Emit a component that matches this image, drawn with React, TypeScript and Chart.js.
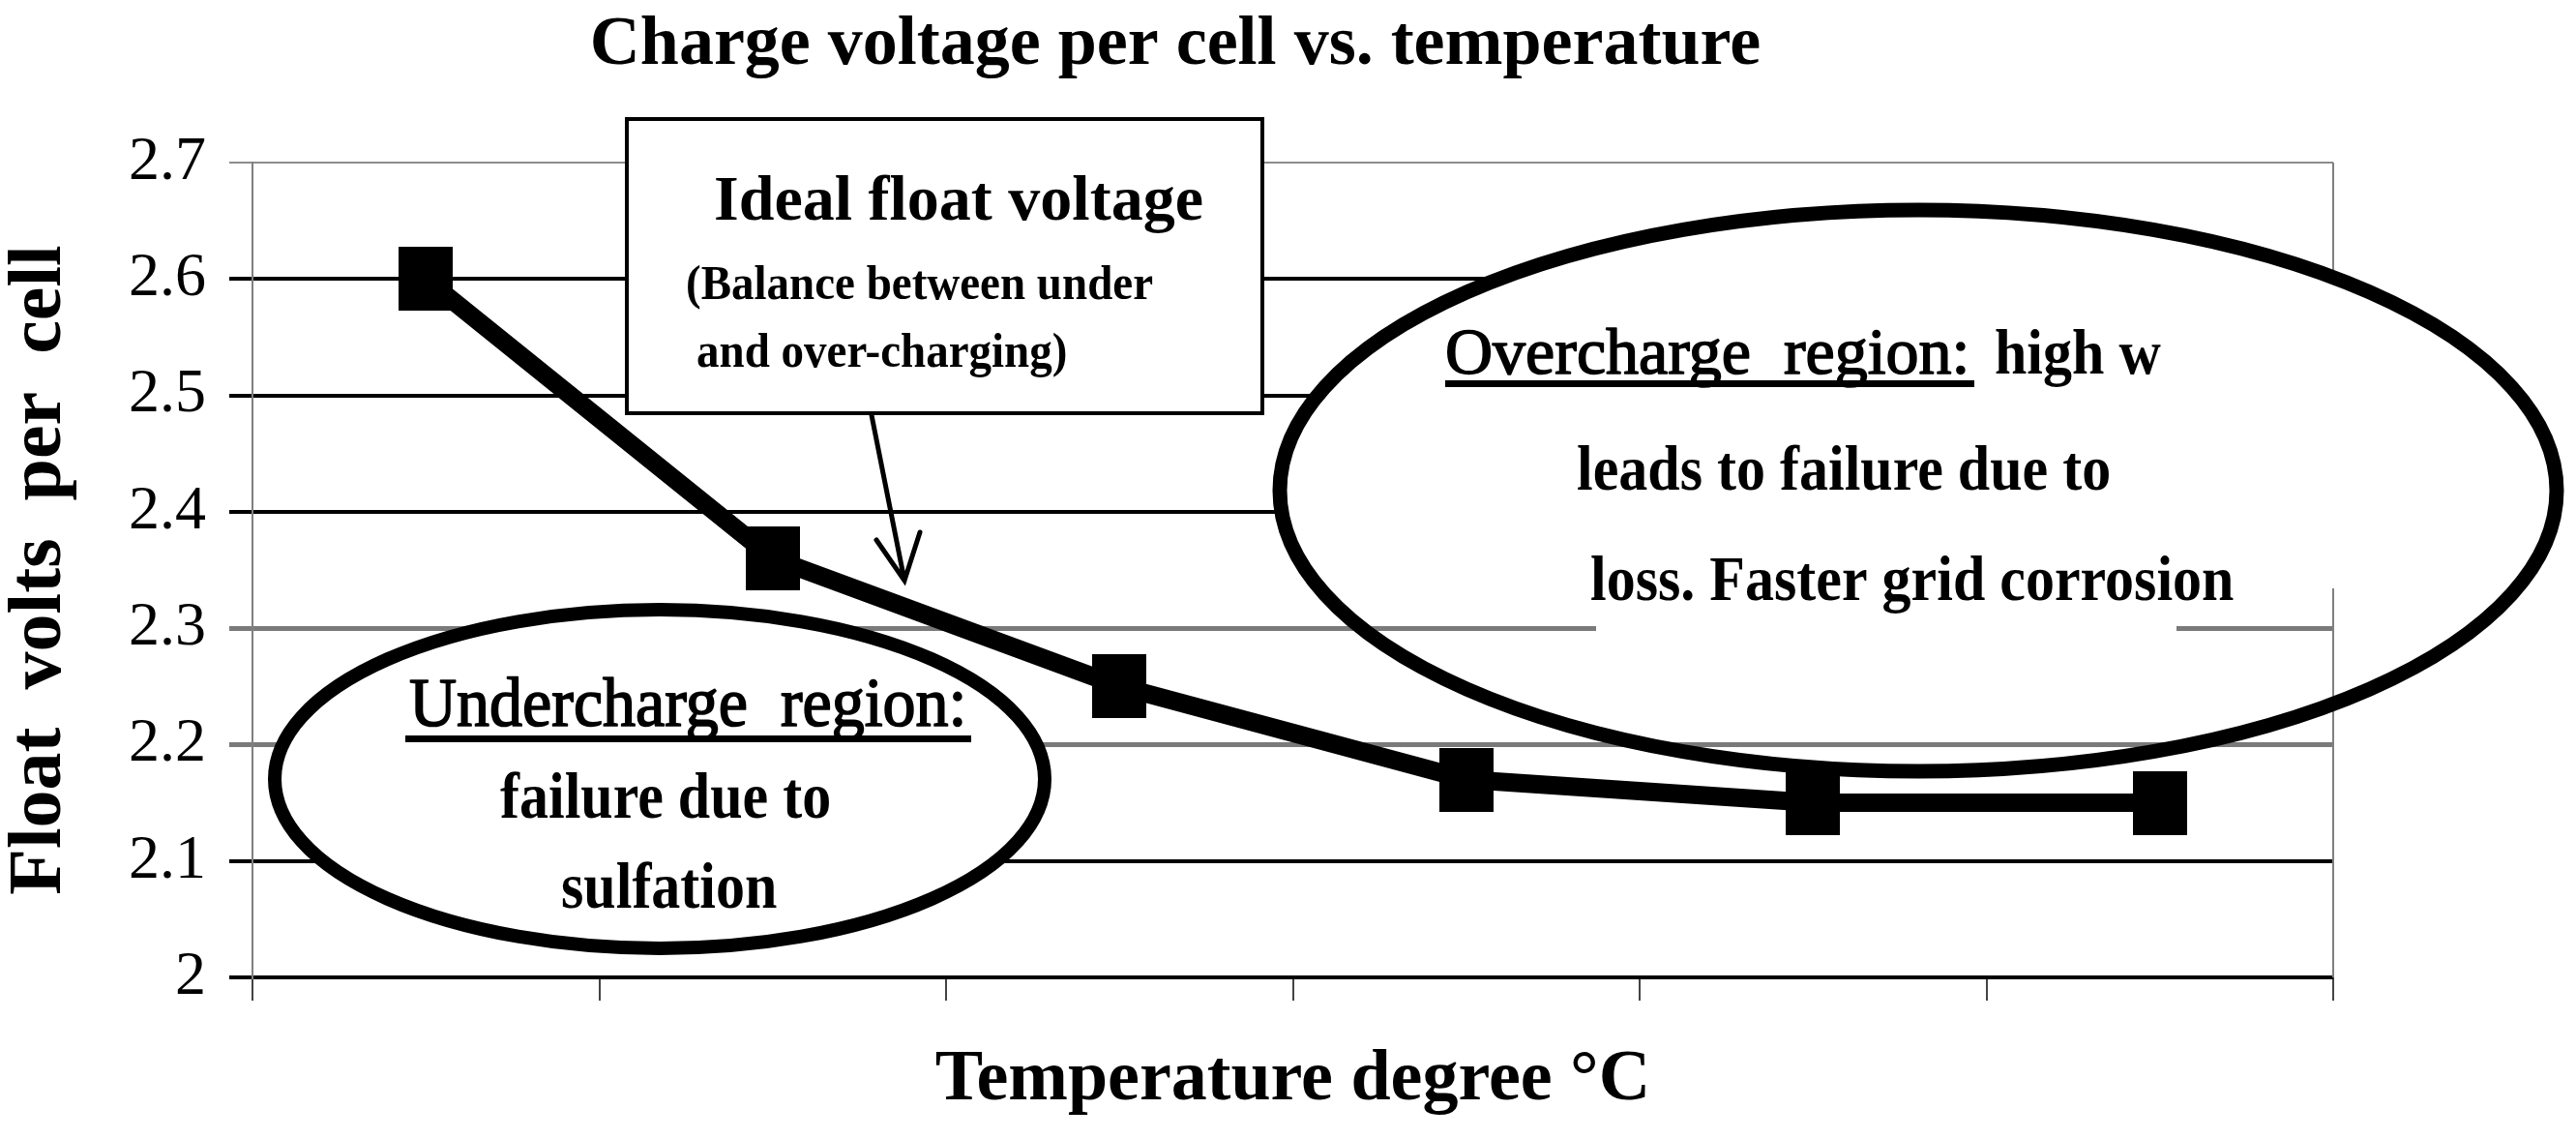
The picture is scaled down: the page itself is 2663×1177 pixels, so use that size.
import React, { useEffect, useRef } from "react";
import { Chart, registerables } from "chart.js";

Chart.register(...registerables);

// ---- data ----
const categories = ["T1", "T2", "T3", "T4", "T5", "T6"];
const floatVolts = [2.6, 2.36, 2.25, 2.17, 2.15, 2.15];
const yTickLabels = ["2", "2.1", "2.2", "2.3", "2.4", "2.5", "2.6", "2.7"];
const chartTitle = "Charge voltage per cell vs. temperature";
const xAxisTitle = "Temperature degree °C";
const yAxisTitle = "Float  volts  per  cell";
const idealLines = ["Ideal float voltage", "(Balance between under", "and over-charging)"];
const underLines = ["Undercharge  region:", "failure due to", "sulfation"];
const overLines = ["Overcharge  region:", "high w", "leads to failure due to", "loss. Faster grid corrosion"];

const SERIF = '"Liberation Serif", "Times New Roman", serif';
const W = 2663;
const H = 1177;

function txt(ctx: CanvasRenderingContext2D, s: string, x: number, y: number, font: string, sy = 1, thicken = 0) {
  ctx.save();
  ctx.translate(x, y);
  ctx.scale(1, sy);
  ctx.font = font;
  ctx.fillStyle = "#000";
  ctx.textAlign = "left";
  ctx.textBaseline = "alphabetic";
  ctx.fillText(s, 0, 0);
  if (thicken > 0) {
    ctx.strokeStyle = "#000";
    ctx.lineWidth = thicken;
    ctx.lineJoin = "round";
    ctx.strokeText(s, 0, 0);
  }
  ctx.restore();
}

const regionsPlugin = {
  id: "regions",
  beforeDatasetsDraw(chart: any) {
    const { ctx, chartArea: ca } = chart;
    ctx.save();
    // plot-area right border
    ctx.strokeStyle = "#808080";
    ctx.lineWidth = 2;
    ctx.beginPath();
    ctx.moveTo(ca.right, ca.top);
    ctx.lineTo(ca.right, ca.bottom);
    ctx.stroke();

    // Ideal float voltage box
    ctx.fillStyle = "#fff";
    ctx.fillRect(648, 123, 657, 304);
    ctx.strokeStyle = "#000";
    ctx.lineWidth = 4;
    ctx.strokeRect(648, 123, 657, 304);
    txt(ctx, idealLines[0], 738, 227, `bold 66px ${SERIF}`);
    txt(ctx, idealLines[1], 709, 309, `bold 47px ${SERIF}`, 1.08);
    txt(ctx, idealLines[2], 720, 379, `bold 47px ${SERIF}`, 1.08);

    // arrow
    ctx.strokeStyle = "#000";
    ctx.lineWidth = 5;
    ctx.lineCap = "round";
    ctx.beginPath();
    ctx.moveTo(901, 429);
    ctx.lineTo(935, 600);
    ctx.moveTo(906, 558);
    ctx.lineTo(935, 600);
    ctx.lineTo(951, 550);
    ctx.stroke();

    // Undercharge ellipse (white filled)
    ctx.beginPath();
    ctx.ellipse(682, 805, 398, 175, 0, 0, Math.PI * 2);
    ctx.fillStyle = "#fff";
    ctx.fill();
    ctx.lineWidth = 14;
    ctx.strokeStyle = "#000";
    ctx.stroke();
    txt(ctx, underLines[0], 423, 750, `68px ${SERIF}`, 1.06, 1.6);
    ctx.fillStyle = "#000";
    ctx.fillRect(419, 760, 585, 7);
    txt(ctx, underLines[1], 517, 845, `bold 60px ${SERIF}`, 1.12);
    txt(ctx, underLines[2], 580, 938, `bold 60px ${SERIF}`, 1.12);

    // Overcharge ellipse: upper part white backed
    ctx.save();
    ctx.beginPath();
    ctx.rect(0, 0, W, 608);
    ctx.clip();
    ctx.beginPath();
    ctx.ellipse(1983, 507, 660, 290, 0, 0, Math.PI * 2);
    ctx.fillStyle = "#fff";
    ctx.fill();
    ctx.restore();
    ctx.fillStyle = "#fff";
    ctx.fillRect(1650, 600, 600, 60);
    ctx.beginPath();
    ctx.ellipse(1983, 507, 660, 290, 0, 0, Math.PI * 2);
    ctx.lineWidth = 15;
    ctx.strokeStyle = "#000";
    ctx.stroke();
    txt(ctx, overLines[0], 1494, 386, `68px ${SERIF}`, 1, 1.6);
    ctx.fillStyle = "#000";
    ctx.fillRect(1494, 393, 547, 7);
    txt(ctx, overLines[1], 2062, 386, `bold 60px ${SERIF}`, 1.1);
    txt(ctx, overLines[2], 1630, 506, `bold 60px ${SERIF}`, 1.1);
    txt(ctx, overLines[3], 1644, 620, `bold 60px ${SERIF}`, 1.1);
    ctx.restore();
  },
};

function gridStyle(v: number) {
  const k = Math.round(v * 10);
  if (k === 27) return { color: "#8c8c8c", width: 2 };
  if (k === 22 || k === 23) return { color: "#7a7a7a", width: 5 };
  return { color: "#000000", width: 4 };
}

export default function App() {
  const canvasRef = useRef<HTMLCanvasElement | null>(null);

  useEffect(() => {
    const canvas = canvasRef.current;
    if (!canvas) return;
    const marker = document.createElement("canvas");
    marker.width = 56;
    marker.height = 66;
    const mctx = marker.getContext("2d")!;
    mctx.fillStyle = "#000";
    mctx.fillRect(0, 0, 56, 66);

    const chart = new Chart(canvas, {
      type: "line",
      data: {
        labels: categories,
        datasets: [
          {
            data: floatVolts,
            borderColor: "#000",
            backgroundColor: "#000",
            borderWidth: 19,
            tension: 0,
            pointStyle: marker as any,
            pointRadius: 30,
            pointHoverRadius: 30,
            fill: false,
          },
        ],
      },
      options: {
        responsive: false,
        animation: false,
        devicePixelRatio: 1,
        events: [],
        layout: { padding: { left: 18, right: 251, top: 0, bottom: 0 } },
        plugins: {
          legend: { display: false },
          tooltip: { enabled: false },
          title: {
            display: true,
            text: chartTitle,
            color: "#000",
            font: { family: SERIF, size: 72, weight: "bold", lineHeight: 1.2 },
            padding: { top: 4.5, bottom: 77.1 },
          },
        },
        scales: {
          x: {
            type: "category",
            offset: true,
            grid: {
              display: true,
              drawOnChartArea: false,
              drawTicks: true,
              tickLength: 24,
              offset: true,
              color: "#444",
              lineWidth: 2,
            },
            border: { display: false },
            ticks: { display: false },
            title: {
              display: true,
              text: xAxisTitle,
              color: "#000",
              font: { family: SERIF, size: 74, weight: "bold", lineHeight: 1.2 },
              padding: { top: 0, bottom: 15.6 },
            },
            afterFit: (s: any) => {
              s.height = 167;
            },
          },
          y: {
            min: 2,
            max: 2.7,
            ticks: {
              stepSize: 0.1,
              color: "#000",
              padding: 24,
              font: { family: SERIF, size: 64 },
              callback: (_v: any, i: number) => yTickLabels[i],
            },
            grid: {
              drawTicks: true,
              tickLength: 24,
              color: (c: any) => gridStyle(c.tick ? c.tick.value : 2).color,
              lineWidth: (c: any) => gridStyle(c.tick ? c.tick.value : 2).width,
            },
            border: { display: true, color: "#808080", width: 2 },
            title: {
              display: true,
              text: yAxisTitle,
              color: "#000",
              font: { family: SERIF, size: 78, weight: "bold", lineHeight: 0.62 },
              padding: { top: 0, bottom: 0 },
            },
            afterFit: (s: any) => {
              s.width = 243;
            },
          },
        },
      },
      plugins: [regionsPlugin],
    } as any);

    return () => chart.destroy();
  }, []);

  return (
    <div style={{ position: "fixed", left: 0, top: 0, width: W, height: H, background: "#fff" }}>
      <canvas ref={canvasRef} width={W} height={H} style={{ width: W, height: H }} />
    </div>
  );
}
